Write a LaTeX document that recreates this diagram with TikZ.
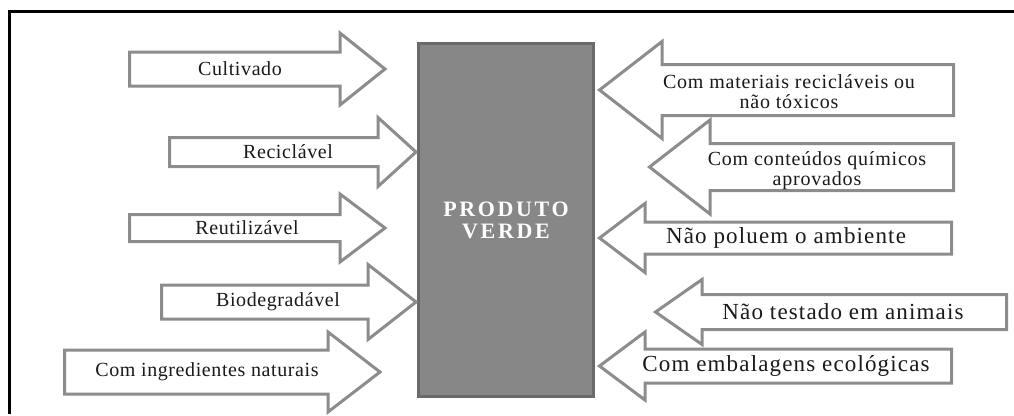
\documentclass[tikz,border=0pt]{standalone}
\usepackage{fontspec}
\setmainfont{Liberation Serif}
\newfontfamily\smallserif[LetterSpace=3]{Liberation Serif}
\newfontfamily\midserif[LetterSpace=4]{Liberation Serif}
\newfontfamily\bigserif[LetterSpace=5]{Liberation Serif}
\newfontfamily\boxserif[LetterSpace=12]{Liberation Serif}
\definecolor{arrowgray}{HTML}{8C8C8C}
\definecolor{boxfill}{HTML}{878787}
\definecolor{boxline}{HTML}{6A6A6A}
\definecolor{textgray}{HTML}{1A1A1A}
% block arrow: end x, head base x, tip x, centre y, half body, half head
\newcommand{\ArrowShape}[6]{%
  \draw[arrowbox] (#1,#4-#5) -- (#2,#4-#5) -- (#2,#4-#6) -- (#3,#4)
    -- (#2,#4+#6) -- (#2,#4+#5) -- (#1,#4+#5) -- cycle;}

\begin{document}
\begin{tikzpicture}[x=1pt,y=-1pt]
      \tikzset{arrowbox/.style = {draw=arrowgray, line width=3pt, fill=white}}
      \tikzset{lefttext/.style = {font=\smallserif\fontsize{20}{22}\selectfont, text=textgray}}
      \tikzset{midtext/.style = {font=\midserif\fontsize{20}{20}\selectfont, text=textgray, align=center}}
      \tikzset{bigtext/.style = {font=\bigserif\fontsize{23}{25}\selectfont, text=textgray}}
      \useasboundingbox (0,0) rectangle (1014,415);
      % Frame
      \draw[line width=3pt] (1014,11) -- (9,11) -- (9,414);

      % Centre box
      \node[draw=boxline, fill=boxfill, line width=3pt, inner sep=0pt,
            minimum width=175pt, minimum height=353pt, text=white, align=center,
            font=\boxserif\bfseries\fontsize{22}{22}\selectfont] (produto) at (506,220) {PRODUTO\\VERDE};

      % Arrows in
      \ArrowShape{129.5}{340}{385}{69}{17}{36}
      \ArrowShape{169.5}{378}{416}{152}{14.5}{34.5}
      \ArrowShape{129.5}{340}{385}{228}{13.5}{34}
      \ArrowShape{161.5}{368}{416}{302}{17}{37.5}
      \ArrowShape{64.5}{328}{380}{372}{22}{40}
      \ArrowShape{953.5}{662}{599.5}{90}{25.5}{48.5}
      \ArrowShape{953.5}{710}{649.5}{167}{23.5}{47}
      \ArrowShape{951.5}{645}{599.5}{238}{16}{34.5}
      \ArrowShape{1006.5}{702}{655.5}{312}{17.5}{32.5}
      \ArrowShape{951.5}{645}{599.5}{366}{17}{34}

      % Labels
      \node[lefttext] (cultivado) at (240,69) {Cultivado};
      \node[lefttext] (reciclavel) at (288,152) {Reciclável};
      \node[lefttext] (reutilizavel) at (247,228) {Reutilizável};
      \node[lefttext] (biodegradavel) at (278,302) {Biodegradável};
      \node[lefttext] (ingredientes) at (207,372) {Com ingredientes naturais};
      \node[midtext] (materiais) at (789,92) {Com materiais recicláveis ou\\não tóxicos};
      \node[midtext] (quimicos) at (817,171) {Com conteúdos químicos\\aprovados};
      \node[bigtext] (poluem) at (786,238) {Não poluem o ambiente};
      \node[bigtext] (testado) at (843,312) {Não testado em animais};
      \node[bigtext] (embalagens) at (786,366) {Com embalagens ecológicas};
\end{tikzpicture}
\end{document}
